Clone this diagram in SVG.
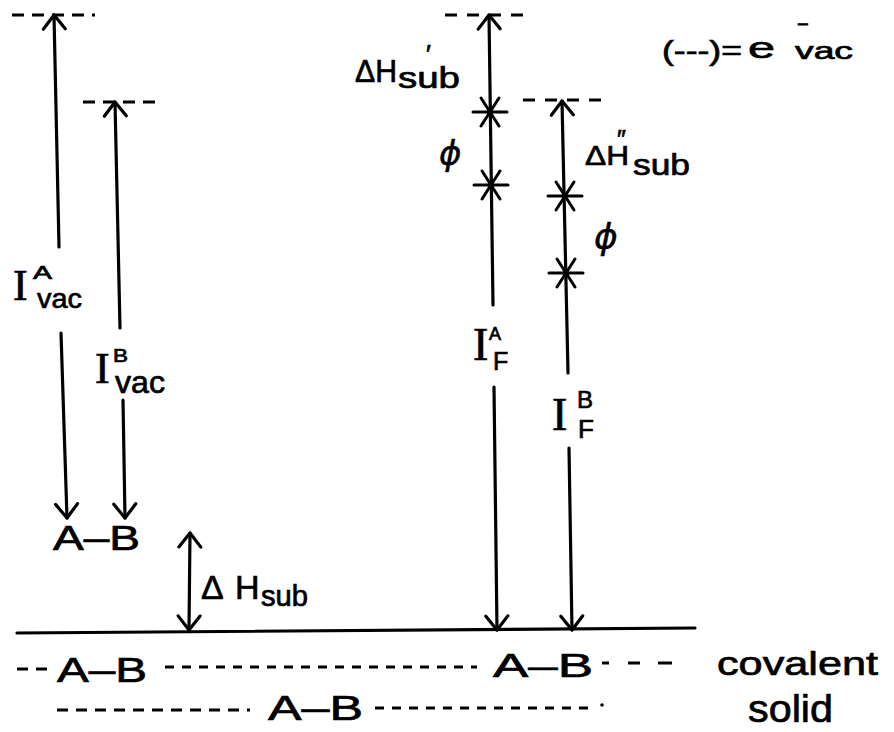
<svg xmlns="http://www.w3.org/2000/svg" width="894" height="732" viewBox="0 0 894 732">
<defs>
<style>
.ln{fill:none;stroke:#000;stroke-width:3.2;stroke-linecap:round}
.dl{fill:none;stroke:#000;stroke-width:3.2}
.t{font-family:"Liberation Sans","DejaVu Sans",sans-serif;fill:#000;stroke:#000;stroke-width:0.7}
.s{font-family:"Liberation Serif","DejaVu Serif",serif;fill:#000;stroke:#000;stroke-width:0.7}
.phi{font-family:"DejaVu Sans","Liberation Sans",sans-serif;font-style:oblique;fill:#000;stroke:#000;stroke-width:0.5}
</style>
<marker id="ah" viewBox="-16 -14 20 28" refX="0" refY="0" markerWidth="20" markerHeight="28" markerUnits="userSpaceOnUse" orient="auto-start-reverse" overflow="visible">
<path d="M-14,-11 L0,0 L-14,11" fill="none" stroke="#000" stroke-width="3.2" stroke-linecap="round" stroke-linejoin="round"/>
</marker>
<g id="star">
<path d="M-17,0 H17 M-9,-14 L9,14 M9,-14 L-9,14" fill="none" stroke="#000" stroke-width="3" stroke-linecap="round"/>
</g>
</defs>
<rect width="894" height="732" fill="#fff"/>

<g id="levels">
<line class="dl" x1="12" y1="15" x2="95" y2="15" stroke-dasharray="12 8"/>
<line class="dl" x1="83" y1="102" x2="160" y2="102" stroke-dasharray="12 8"/>
<line class="dl" x1="445" y1="15" x2="527" y2="15" stroke-dasharray="12 10"/>
<line class="dl" x1="523" y1="100" x2="610" y2="100" stroke-dasharray="12 10"/>
<path class="ln" d="M17,633 L695,628" stroke-width="3.5"/>
</g>

<g id="connectors">
<path class="ln" d="M54,15 L59,247" marker-start="url(#ah)"/>
<path class="ln" d="M61,333 L67,518" marker-end="url(#ah)"/>
<path class="ln" d="M115,102 L120,328" marker-start="url(#ah)"/>
<path class="ln" d="M123,400 L125,518" marker-end="url(#ah)"/>
<path class="ln" d="M190,533 L189,630" marker-start="url(#ah)" marker-end="url(#ah)"/>
<path class="ln" d="M489,15 L493,305" marker-start="url(#ah)"/>
<path class="ln" d="M494,387 L497,630" marker-end="url(#ah)"/>
<path class="ln" d="M562,101 L568,373" marker-start="url(#ah)"/>
<path class="ln" d="M569,448 L572,630" marker-end="url(#ah)"/>
<use href="#star" x="490" y="112"/>
<use href="#star" x="491" y="185"/>
<use href="#star" x="565" y="196"/>
<use href="#star" x="566" y="273"/>
</g>

<g id="label-IAvac">
<text class="s" x="13" y="300" font-size="44">I</text>
<text class="t" x="33" y="279" font-size="18" textLength="19" lengthAdjust="spacingAndGlyphs">A</text>
<text class="t" x="37" y="308" font-size="28" textLength="45" lengthAdjust="spacingAndGlyphs">vac</text>
</g>
<g id="label-IBvac">
<text class="s" x="95" y="383" font-size="44">I</text>
<text class="t" x="113" y="362" font-size="18" textLength="15" lengthAdjust="spacingAndGlyphs">B</text>
<text class="t" x="115" y="393" font-size="31" textLength="50" lengthAdjust="spacingAndGlyphs">vac</text>
</g>
<g id="node-AB-gas">
<text class="t" x="53" y="550" font-size="35" textLength="87" lengthAdjust="spacingAndGlyphs">A–B</text>
</g>
<g id="label-dHsub">
<text class="t" x="201" y="599" font-size="34">Δ</text>
<text class="t" x="235" y="599" font-size="34">H</text>
<text class="t" x="261" y="606" font-size="29" textLength="47" lengthAdjust="spacingAndGlyphs">sub</text>
</g>
<g id="label-dHsub1">
<text class="t" x="355" y="82" font-size="31" textLength="42" lengthAdjust="spacingAndGlyphs">ΔH</text>
<text class="t" x="426" y="63" font-size="26">′</text>
<text class="t" x="398" y="88" font-size="30" textLength="62" lengthAdjust="spacingAndGlyphs">sub</text>
</g>
<g id="label-phi1">
<text class="phi" x="439" y="165" font-size="34">ϕ</text>
</g>
<g id="label-dHsub2">
<text class="t" x="585" y="165" font-size="28" textLength="44" lengthAdjust="spacingAndGlyphs">ΔH</text>
<text class="t" x="617" y="148" font-size="25">″</text>
<text class="t" x="633" y="175" font-size="30" textLength="57" lengthAdjust="spacingAndGlyphs">sub</text>
</g>
<g id="label-phi2">
<text class="phi" x="594" y="249" font-size="36">ϕ</text>
</g>
<g id="label-IAF">
<text class="s" x="473" y="360" font-size="46">I</text>
<text class="t" x="489" y="340" font-size="18">A</text>
<text class="t" x="493" y="370" font-size="25">F</text>
</g>
<g id="label-IBF">
<text class="s" x="552" y="430" font-size="46">I</text>
<text class="t" x="577" y="408" font-size="24">B</text>
<text class="t" x="578" y="438" font-size="26">F</text>
</g>
<g id="legend">
<text class="t" x="662" y="60" font-size="27" textLength="80" lengthAdjust="spacingAndGlyphs">(---)=</text>
<text class="t" x="748" y="58" font-size="30" textLength="27" lengthAdjust="spacingAndGlyphs">e</text>
<text class="t" x="797" y="31" font-size="20">−</text>
<text class="t" x="795" y="59" font-size="23" textLength="58" lengthAdjust="spacingAndGlyphs">vac</text>
</g>

<g id="solid-chain">
<line class="dl" x1="17" y1="669" x2="47" y2="669" stroke-dasharray="11 8"/>
<text class="t" x="57" y="682" font-size="35" textLength="90" lengthAdjust="spacingAndGlyphs">A–B</text>
<line class="dl" x1="165" y1="667" x2="477" y2="667" stroke-dasharray="9 8"/>
<text class="t" x="493" y="677" font-size="34" textLength="100" lengthAdjust="spacingAndGlyphs">A–B</text>
<path class="dl" d="M602,663 H609 M628,663 H640 M658,663 H672"/>
<line class="dl" x1="57" y1="710" x2="250" y2="710" stroke-dasharray="11 8"/>
<text class="t" x="268" y="720" font-size="35" textLength="95" lengthAdjust="spacingAndGlyphs">A–B</text>
<line class="dl" x1="375" y1="708" x2="596" y2="708" stroke-dasharray="9 8"/>
<circle cx="602" cy="705" r="1.8" fill="#000"/>
</g>
<g id="label-covalent-solid">
<text class="t" x="717" y="675" font-size="34" textLength="161" lengthAdjust="spacingAndGlyphs">covalent</text>
<text class="t" x="748" y="722" font-size="39" textLength="85" lengthAdjust="spacingAndGlyphs">solid</text>
</g>
</svg>
